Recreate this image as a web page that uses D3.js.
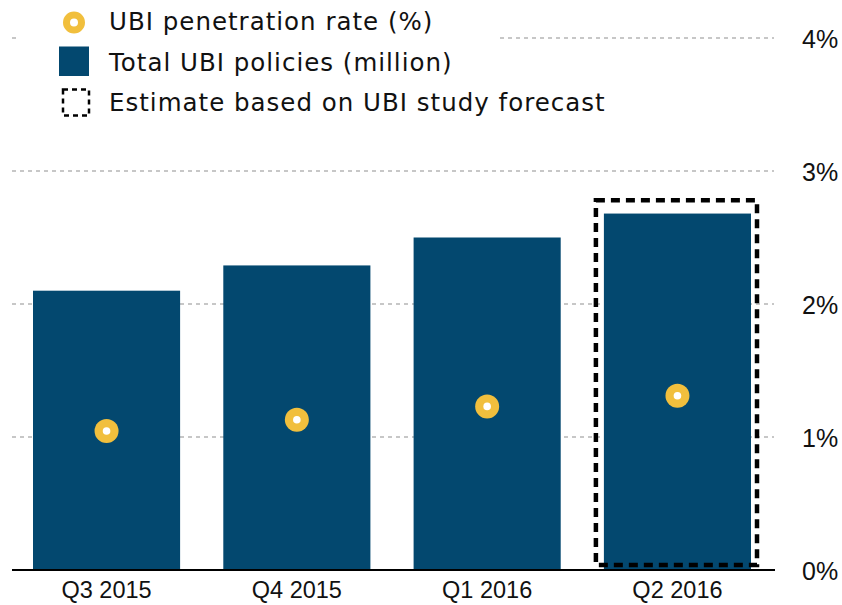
<!DOCTYPE html>
<html lang="en">
<head>
    <meta charset="utf-8">
    <title>UBI</title>
    <script src="https://cdn.jsdelivr.net/npm/d3@7"></script>
</head>
<style>
    body { margin: 0; background: #fff; }
</style>
<body>
    <script>
     // data
     var quarters = ["Q3 2015", "Q4 2015", "Q1 2016", "Q2 2016"];
     var policies = [2.10, 2.29, 2.50, 2.68];       // bar heights on the shared axis
     var penetration = [1.045, 1.13, 1.23, 1.31];   // UBI penetration rate (%)
     var estimated = ["Q2 2016"];
     var estimateTop = 2.78;
     var ticks = [0, 1, 2, 3, 4];
     var legendLabels = ["UBI penetration rate (%)", "Total UBI policies (million)", "Estimate based on UBI study forecast"];

     var W = 842, H = 605;
     var blue = "#03486f", gold = "#f1bf3d";

     var svg = d3.select("body").append("svg")
                 .attr("width", W)
                 .attr("height", H);

     var x = d3.scaleBand()
               .domain(quarters)
               .range([33, 751])
               .paddingInner(0.227)
               .paddingOuter(0);

     var y = d3.scaleLinear()
               .domain([0, 4])
               .range([570, 38]);

     // gridlines
     svg.append("g").selectAll("line")
        .data(ticks.filter(function(d) { return d > 0; }))
        .enter().append("line")
        .attr("x1", 12).attr("x2", 774)
        .attr("y1", function(d) { return y(d); })
        .attr("y2", function(d) { return y(d); })
        .attr("stroke", "#b5b5b5")
        .attr("stroke-width", 1.5)
        .attr("stroke-dasharray", "4,4");

     // right axis labels
     var axis = d3.axisRight(y).tickValues(ticks)
                  .tickFormat(function(d) { return d + "%"; })
                  .tickSize(0).tickPadding(0);
     var ax = svg.append("g").attr("transform", "translate(802,0)").call(axis);
     ax.select(".domain").remove();
     ax.selectAll("text")
       .attr("font-family", "'Liberation Sans', Arial, sans-serif")
       .attr("font-size", 25)
       .attr("fill", "#111")
       .attr("dy", "0.36em");

     // bars
     svg.append("g").selectAll("rect")
        .data(quarters)
        .enter().append("rect")
        .attr("x", function(d) { return x(d); })
        .attr("width", x.bandwidth())
        .attr("y", function(d, i) { return y(policies[i]); })
        .attr("height", function(d, i) { return y(0) - y(policies[i]); })
        .attr("fill", blue);

     // estimate box
     svg.append("g").selectAll("rect")
        .data(estimated)
        .enter().append("rect")
        .attr("x", function(d) { return x(d) - 8; })
        .attr("width", x.bandwidth() + 14)
        .attr("y", y(estimateTop))
        .attr("height", y(0) - 5 - y(estimateTop))
        .attr("fill", "none")
        .attr("stroke", "#000")
        .attr("stroke-width", 4.5)
        .attr("stroke-dasharray", "9,6");

     // baseline
     svg.append("line")
        .attr("x1", 12).attr("x2", 775)
        .attr("y1", y(0)).attr("y2", y(0))
        .attr("stroke", "#000")
        .attr("stroke-width", 2);

     // category labels
     var xa = svg.append("g").attr("transform", "translate(0," + y(0) + ")")
                 .call(d3.axisBottom(x).tickSize(0).tickPadding(11));
     xa.select(".domain").remove();
     xa.selectAll("text")
       .attr("font-family", "'Liberation Sans', Arial, sans-serif")
       .attr("font-size", 23.5)
       .attr("fill", "#111");

     // penetration dots
     var dots = svg.append("g").selectAll("g")
                   .data(quarters)
                   .enter().append("g")
                   .attr("transform", function(d, i) {
                       return "translate(" + (x(d) + x.bandwidth() / 2) + "," + y(penetration[i]) + ")";
                   });
     dots.append("circle").attr("r", 12).attr("fill", gold);
     dots.append("circle").attr("r", 3.8).attr("fill", "#fff");

     // legend
     var lg = svg.append("g");
     lg.append("rect").attr("x", 20).attr("y", 0).attr("width", 478).attr("height", 125).attr("fill", "#fff");
     lg.append("circle").attr("cx", 74).attr("cy", 22.5).attr("r", 7.5)
       .attr("fill", "#fff").attr("stroke", gold).attr("stroke-width", 7);
     lg.append("rect").attr("x", 59).attr("y", 46.5).attr("width", 30).attr("height", 29.5).attr("fill", blue);
     lg.append("rect").attr("x", 63).attr("y", 89.5).attr("width", 26).attr("height", 26)
       .attr("fill", "none").attr("stroke", "#000").attr("stroke-width", 2.5)
       .attr("stroke-dasharray", "5,4");
     lg.selectAll("text")
       .data(legendLabels)
       .enter().append("text")
       .attr("x", 109)
       .attr("y", function(d, i) { return 30 + i * 40.5; })
       .attr("font-family", "'DejaVu Sans', sans-serif")
       .attr("font-size", 24.5)
       .attr("letter-spacing", 1)
       .attr("fill", "#111")
       .text(function(d) { return d; });
    </script>
</body>
</html>
